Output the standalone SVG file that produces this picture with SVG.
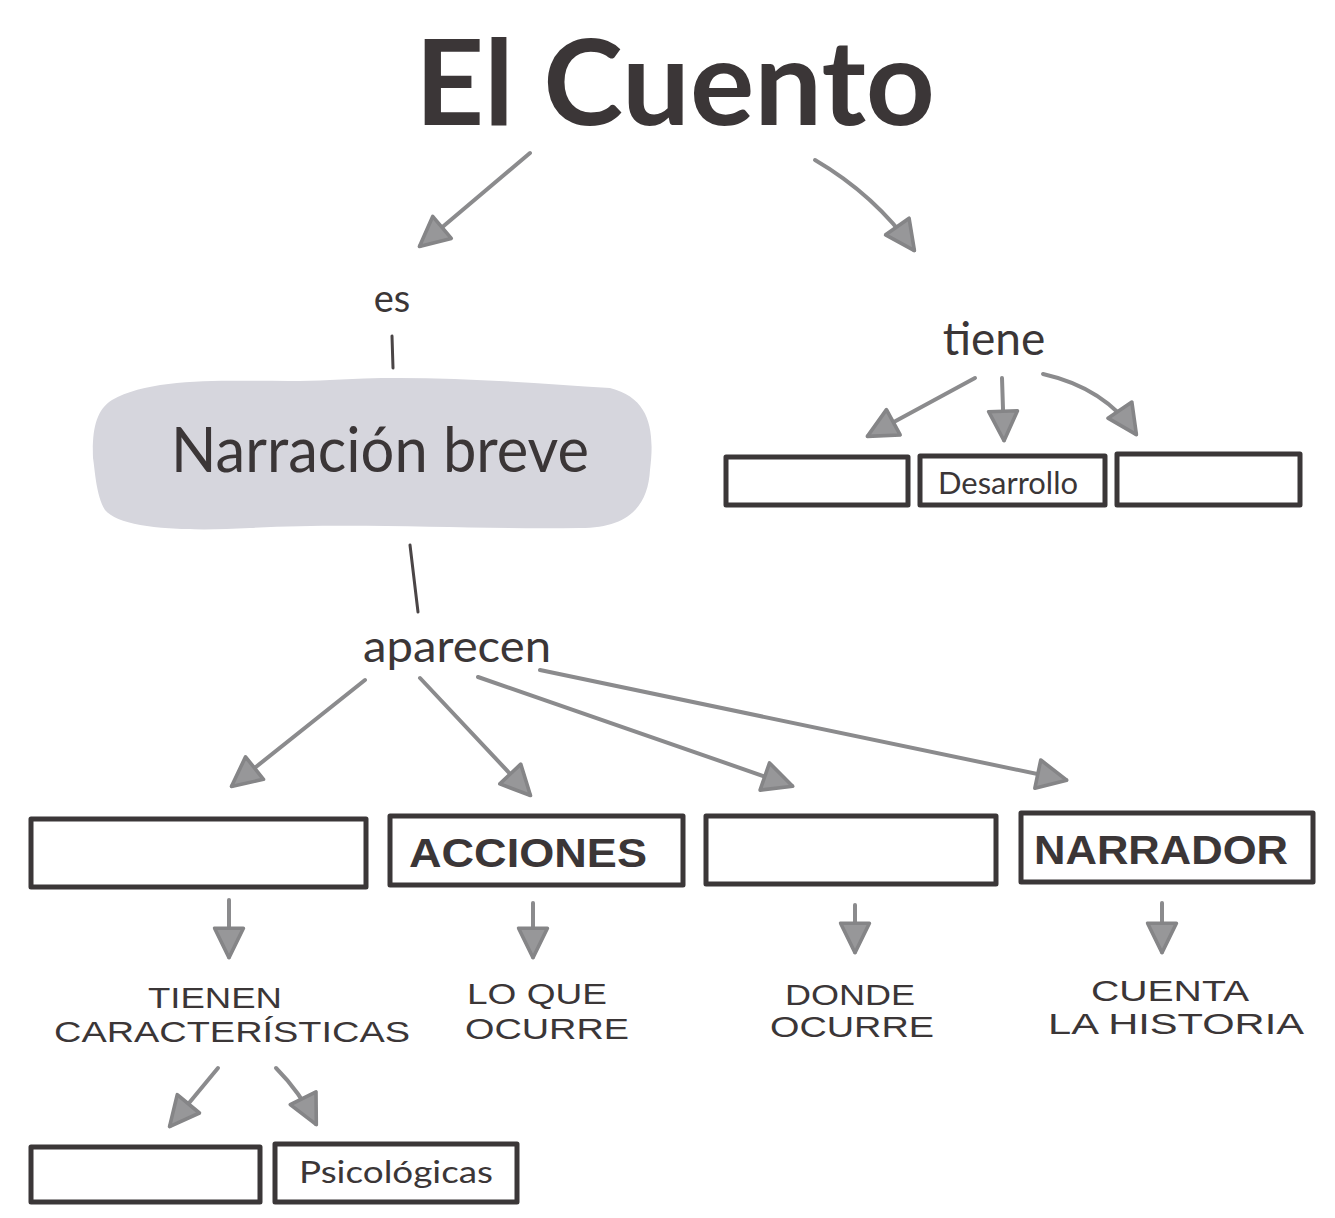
<svg xmlns="http://www.w3.org/2000/svg" width="1335" height="1218" viewBox="0 0 1335 1218">
<style>
.bg{fill:#ffffff}
.box{fill:#ffffff;stroke:#3b3738;stroke-width:5;stroke-linejoin:round}
.conn{fill:none;stroke:#8b8b8d;stroke-width:4;stroke-linecap:round}
.line{fill:none;stroke:#4a4546;stroke-width:3;stroke-linecap:round}
.t{font-family:"Lato","Open Sans",sans-serif;fill:#3b3637;text-anchor:middle}
.caps{font-family:"Liberation Sans","Arial",sans-serif;fill:#3b3637;text-anchor:middle}
</style>
<defs>
<marker id="ah" viewBox="0 0 10 10" refX="9" refY="5" markerWidth="36" markerHeight="36" markerUnits="userSpaceOnUse" orient="auto">
<path d="M1,1 L9.2,5 L1,9 Z" fill="#979799" stroke="#858587" stroke-width="1" stroke-linejoin="round"/>
</marker>
</defs>
<rect class="bg" x="0" y="0" width="1335" height="1218"/>

<g id="title">
<text class="t" x="675" y="125" font-size="118" font-weight="700" textLength="520" lengthAdjust="spacingAndGlyphs">El Cuento</text>
</g>

<g id="connectors">
<path class="conn" d="M530,153 L420,246" marker-end="url(#ah)"/>
<path class="conn" d="M815,160 Q875,195 914,250" marker-end="url(#ah)"/>
<path class="line" d="M392,336 L393,368"/>
<path class="line" d="M410,545 L418,612"/>
<path class="conn" d="M975,378 L868,436" marker-end="url(#ah)"/>
<path class="conn" d="M1002,378 L1004,440" marker-end="url(#ah)"/>
<path class="conn" d="M1043,374 Q1105,388 1136,434" marker-end="url(#ah)"/>
<path class="conn" d="M365,680 L232,786" marker-end="url(#ah)"/>
<path class="conn" d="M420,678 L530,795" marker-end="url(#ah)"/>
<path class="conn" d="M478,677 L792,786" marker-end="url(#ah)"/>
<path class="conn" d="M540,670 L1066,780" marker-end="url(#ah)"/>
<path class="conn" d="M229,900 L229,957" marker-end="url(#ah)"/>
<path class="conn" d="M533,903 L533,957" marker-end="url(#ah)"/>
<path class="conn" d="M855,905 L855,952" marker-end="url(#ah)"/>
<path class="conn" d="M1162,903 L1162,952" marker-end="url(#ah)"/>
<path class="conn" d="M218,1068 L170,1126" marker-end="url(#ah)"/>
<path class="conn" d="M276,1068 Q300,1092 316,1124" marker-end="url(#ah)"/>
</g>

<g id="es">
<text class="t" x="392" y="312" font-size="38">es</text>
</g>

<g id="narracion">
<path d="M112,400 C160,372 260,384 330,380 C420,374 520,382 610,388 C650,398 655,430 650,470 C648,505 630,528 580,528 C480,530 360,522 250,528 C180,532 120,528 105,510 C96,495 95,470 93,458 C92,430 96,410 112,400 Z" fill="#d6d6dd"/>
<text class="t" x="380" y="472" font-size="62" textLength="418" lengthAdjust="spacingAndGlyphs">Narración breve</text>
</g>

<g id="tiene">
<text class="t" x="994" y="355" font-size="46">tiene</text>
</g>

<g id="box-inicio"><rect class="box" x="726" y="457" width="182" height="48"/></g>
<g id="box-desarrollo"><rect class="box" x="920" y="456" width="185" height="49"/>
<text class="t" x="1008" y="494" font-size="30" textLength="140" lengthAdjust="spacingAndGlyphs">Desarrollo</text></g>
<g id="box-desenlace"><rect class="box" x="1117" y="454" width="183" height="51"/></g>

<g id="aparecen">
<text class="t" x="457" y="662" font-size="44" textLength="188" lengthAdjust="spacingAndGlyphs">aparecen</text>
</g>

<g id="box-personajes"><rect class="box" x="31" y="819" width="335" height="68"/></g>
<g id="box-acciones"><rect class="box" x="390" y="816" width="293" height="69"/>
<text class="caps" x="528" y="867" font-size="40" font-weight="700" textLength="238" lengthAdjust="spacingAndGlyphs">ACCIONES</text></g>
<g id="box-lugar"><rect class="box" x="706" y="816" width="290" height="68"/></g>
<g id="box-narrador"><rect class="box" x="1021" y="813" width="292" height="69"/>
<text class="caps" x="1161" y="864" font-size="40" font-weight="700" textLength="254" lengthAdjust="spacingAndGlyphs">NARRADOR</text></g>

<g id="txt-tienen">
<text class="caps" x="215" y="1008" font-size="30" textLength="134" lengthAdjust="spacingAndGlyphs">TIENEN</text>
<text class="caps" x="232" y="1042" font-size="30" textLength="356" lengthAdjust="spacingAndGlyphs">CARACTERÍSTICAS</text>
</g>
<g id="txt-loque">
<text class="caps" x="537" y="1004" font-size="30" textLength="140" lengthAdjust="spacingAndGlyphs">LO QUE</text>
<text class="caps" x="547" y="1039" font-size="30" textLength="164" lengthAdjust="spacingAndGlyphs">OCURRE</text>
</g>
<g id="txt-donde">
<text class="caps" x="850" y="1005" font-size="30" textLength="130" lengthAdjust="spacingAndGlyphs">DONDE</text>
<text class="caps" x="852" y="1037" font-size="30" textLength="164" lengthAdjust="spacingAndGlyphs">OCURRE</text>
</g>
<g id="txt-cuenta">
<text class="caps" x="1170" y="1001" font-size="30" textLength="158" lengthAdjust="spacingAndGlyphs">CUENTA</text>
<text class="caps" x="1176" y="1034" font-size="30" textLength="256" lengthAdjust="spacingAndGlyphs">LA HISTORIA</text>
</g>

<g id="box-fisicas"><rect class="box" x="31" y="1147" width="229" height="55"/></g>
<g id="box-psicologicas"><rect class="box" x="275" y="1144" width="242" height="58"/>
<text class="t" x="396" y="1183" font-size="30" textLength="194" lengthAdjust="spacingAndGlyphs">Psicológicas</text></g>
</svg>
